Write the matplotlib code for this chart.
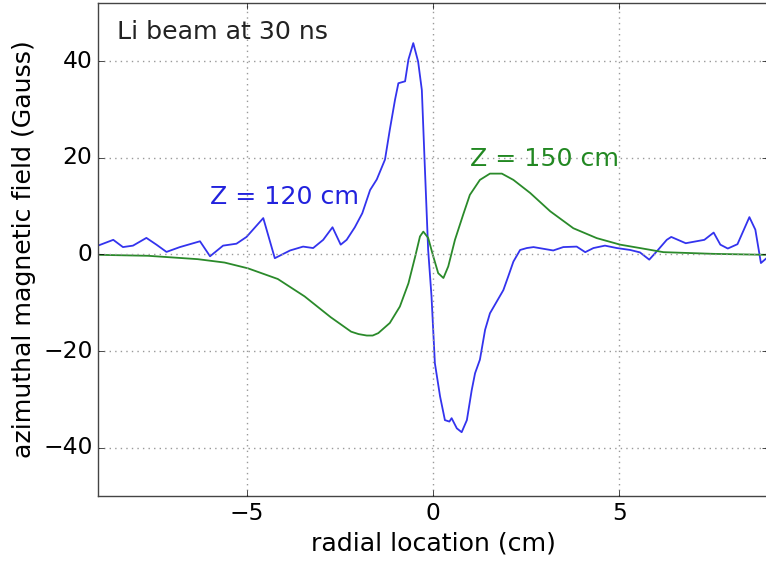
import matplotlib
matplotlib.use("Agg")
import matplotlib.pyplot as plt

plt.style.use("classic")
plt.rcParams['font.family'] = ['DejaVu Sans']

# Z = 120 cm (blue)
x120 = [-9.0, -8.59, -8.33, -8.06, -7.70, -7.43, -7.16, -6.80, -6.26, -5.99, -5.64,
        -5.28, -5.01, -4.56, -4.25, -3.84, -3.49, -3.22, -2.95, -2.70, -2.48, -2.32,
        -2.10, -1.90, -1.69, -1.51, -1.29, -1.16, -1.02, -0.93, -0.75, -0.66, -0.53, -0.40,
        -0.30, -0.22, -0.13, -0.04, 0.05, 0.19, 0.32, 0.44, 0.50, 0.64, 0.77, 0.91,
        1.04, 1.13, 1.26, 1.40, 1.53, 1.71, 1.89, 2.02, 2.16, 2.34, 2.52, 2.70, 3.23,
        3.50, 3.86, 4.09, 4.31, 4.62, 4.94, 5.30, 5.56, 5.81, 6.01, 6.28, 6.40, 6.79,
        7.29, 7.54, 7.72, 7.92, 8.18, 8.50, 8.66, 8.81, 8.96]
b120 = [1.8, 3.0, 1.5, 1.8, 3.4, 2.0, 0.5, 1.5, 2.7, -0.4, 1.8,
        2.2, 3.6, 7.5, -0.8, 0.8, 1.6, 1.3, 3.0, 5.6, 2.0, 3.0,
        5.6, 8.5, 13.3, 15.5, 19.6, 25.8, 32.0, 35.4, 35.8, 40.3, 43.7, 39.9,
        34.0, 18.2, 0.9, -8.7, -22.5, -29.4, -34.3, -34.6, -33.9, -36.0, -36.8, -34.3,
        -28.1, -24.6, -21.8, -15.6, -12.2, -9.8, -7.4, -4.6, -1.5, 0.9, 1.3, 1.5, 0.8,
        1.5, 1.6, 0.45, 1.3, 1.8, 1.3, 0.9, 0.4, -1.1, 0.6, 3.0, 3.6, 2.3,
        3.0, 4.5, 2.0, 1.2, 2.1, 7.7, 5.1, -1.8, -0.8]

# Z = 150 cm (green)
x150 = [-9.0, -7.66, -6.32, -5.60, -4.97, -4.17, -3.45, -2.75, -2.20, -2.00, -1.78,
        -1.62, -1.47, -1.16, -0.89, -0.66, -0.48, -0.35, -0.26, -0.13, 0.01, 0.14,
        0.28, 0.41, 0.59, 0.81, 0.99, 1.26, 1.53, 1.85, 2.16, 2.61, 3.15, 3.77,
        4.40, 5.03, 5.56, 6.19, 7.53, 8.95]
b150 = [-0.1, -0.3, -1.0, -1.7, -2.9, -5.1, -8.7, -13.0, -16.0, -16.5, -16.8,
        -16.8, -16.3, -14.2, -10.8, -6.0, -0.5, 3.7, 4.7, 3.4, -0.5, -3.9,
        -4.9, -2.5, 3.0, 8.2, 12.3, 15.4, 16.7, 16.7, 15.4, 12.7, 8.9, 5.4,
        3.35, 2.0, 1.3, 0.45, 0.1, -0.1]

fig = plt.figure(figsize=(7.66, 5.62), dpi=100, facecolor='white')
ax = fig.add_axes([98/766, 66/562, 670/766, 493/562])
ax.plot(x120, b120, color='#3333ee', lw=1.3)
ax.plot(x150, b150, color='#2a8a2a', lw=1.3)
ax.set_xlim(-9, 9)
ax.set_ylim(-50, 52)
ax.set_xticks([-5, 0, 5])
ax.set_yticks([-40, -20, 0, 20, 40])
ax.grid(True, color='#999999', linestyle=':', linewidth=1.0)
ax.tick_params(labelsize=16.8)
ax.set_xlabel('radial location (cm)', fontsize=18.2)
ax.set_ylabel('azimuthal magnetic field (Gauss)', fontsize=18.2)
ax.text(-8.5, 46, 'Li beam at 30 ns', fontsize=18.2, va='center', ha='left', color='#222222')
ax.text(-6.0, 11.9, 'Z = 120 cm', fontsize=18.2, va='center', ha='left', color='#2222dd')
ax.text(1.0, 19.8, 'Z = 150 cm', fontsize=18.2, va='center', ha='left', color='#228822')
for s in ax.spines.values():
    s.set_color('#444444')
fig.savefig('out.png', dpi=100, facecolor='white')
